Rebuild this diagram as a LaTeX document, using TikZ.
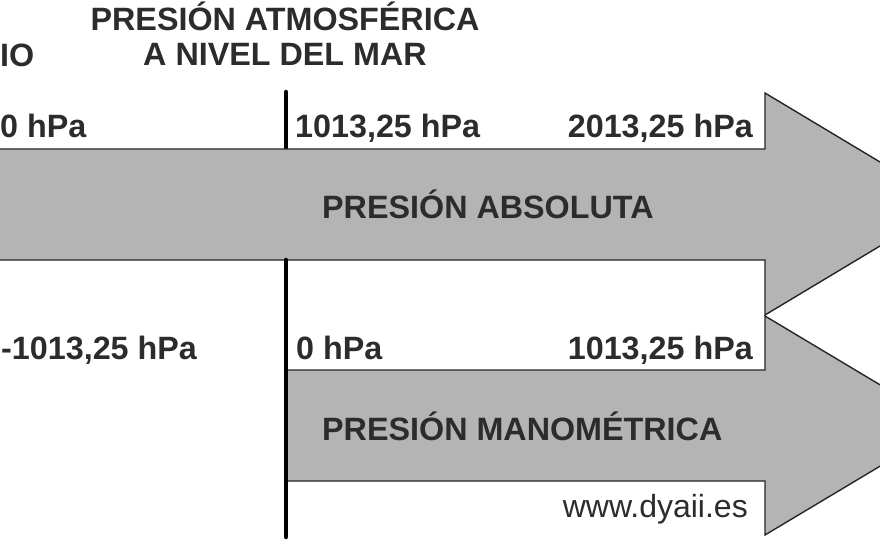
\documentclass[tikz,border=0pt]{standalone}
\usepackage{fontspec}
\setmainfont{Liberation Sans}
\usepackage{tikz}
\usetikzlibrary{positioning}
\definecolor{ArrowGrey}{RGB}{180,180,180}
\definecolor{Ink}{RGB}{44,44,44}

\begin{document}
\begin{tikzpicture}[x=1pt,y=-1pt,
       line join=miter,
       every node/.style={font=\fontsize{32.3}{36}\selectfont\bfseries, text=Ink, inner sep=0pt},
       bigarrow/.style={fill=ArrowGrey, draw=black!85, line width=1.4pt},
       atmline/.style={draw=black, line width=4.5pt, line cap=round},
       valleft/.style={anchor=base west},
       valright/.style={anchor=base east}]

	%% Frame of the picture
	\useasboundingbox (0,0) rectangle (880,540);
	\clip (0,0) rectangle (880,540);

	%% Line of the atmospheric pressure (behind the arrows)
	\coordinate (atmtop) at (286,92);
	\coordinate (atmmid) at (286,260);
	\coordinate (atmbot) at (286,537);
	\draw[atmline] (atmtop) -- (atmmid);

	%% The two arrows
	\draw[bigarrow] (-20,149) -- (765,149) -- (765,93) -- (950,204)
		-- (765,315) -- (765,260) -- (-20,260) -- cycle;
	\draw[bigarrow] (286,370) -- (765,370) -- (765,316) -- (948,425.5)
		-- (765,535) -- (765,481) -- (286,481) -- cycle;
	\draw[atmline] (atmmid) -- (atmbot);

	%% Headings
	\node[anchor=base] (atm1) at (285,31) {PRESIÓN ATMOSFÉRICA};
	\node[anchor=base] (atm2) at (285,66) {A NIVEL DEL MAR};
	\node[valleft] (vacio) at (0,67) {IO};

	%% Absolute pressure
	\node[valleft] (abs0) at (0,138) {0 hPa};
	\node[valleft] (abs1) at (295,138) {1013,25 hPa};
	\node[valright] (abs2) at (753,138) {2013,25 hPa};
	\node[valleft] (abslabel) at (322,218) {PRESIÓN ABSOLUTA};

	%% Gauge pressure
	\node[valleft] (man0) at (1,359) {-1013,25 hPa};
	\node[valleft] (man1) at (296,359) {0 hPa};
	\node[valright] (man2) at (753,359) {1013,25 hPa};
	\node[valleft] (manlabel) at (322,440) {PRESIÓN MANOMÉTRICA};

	\node[valright, font=\fontsize{32}{36}\selectfont] (web) at (748,517) {www.dyaii.es};
\end{tikzpicture}
\end{document}
